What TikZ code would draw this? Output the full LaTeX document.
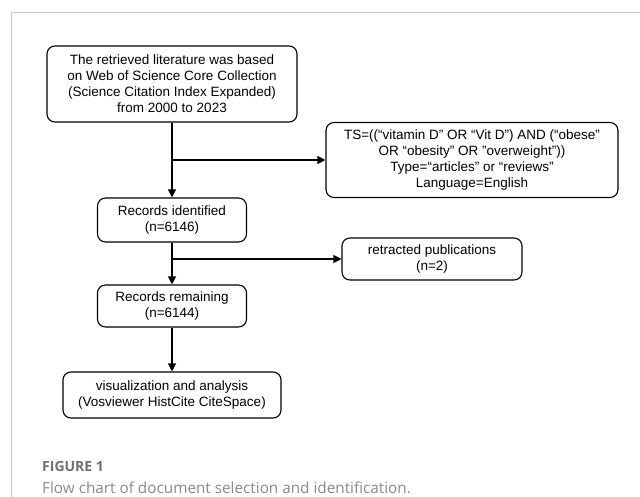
\documentclass[tikz,border=0pt]{standalone}
\usepackage{fontspec}
\setmainfont{Liberation Sans}
\newfontfamily\capfont{Open Sans}
\usetikzlibrary{arrows.meta}
\definecolor{framegray}{HTML}{C8C8C8}
\definecolor{capgray}{HTML}{8A8A8A}
\definecolor{figgray}{HTML}{707070}
\begin{document}
\begin{tikzpicture}[x=1pt,y=-1pt,
  flowbox/.style={draw=black, line width=1.1pt, rounded corners=8pt, align=center,
    inner sep=0pt, font=\fontsize{13.5}{16}\selectfont},
  arr/.style={line width=1.1pt, -{Triangle[length=8pt,width=8pt]}},
  plain/.style={line width=1.1pt}]
\useasboundingbox (0,0) rectangle (640,497);
\fill[white] (0,0) rectangle (640,497);
\draw[framegray, line width=0.8pt] (11,497) -- (11,12) -- (640,12);

\node[flowbox, minimum width=250pt, minimum height=76pt] (box1) at (172,84)
  {The retrieved literature was based\\on Web of Science Core Collection\\(Science Citation Index Expanded)\\from 2000 to 2023};
\node[flowbox, minimum width=292pt, minimum height=75pt] (ts) at (472,160)
  {TS=((“vitamin D” OR “Vit D”) AND (“obese”\\OR “obesity” OR "overweight"))\\Type=“articles” or “reviews”\\Language=English};
\node[flowbox, minimum width=149pt, minimum height=44pt] (rid) at (172,220)
  {Records identified\\(n=6146)};
\node[flowbox, minimum width=180pt, minimum height=42pt] (ret) at (432,259)
  {retracted publications\\(n=2)};
\node[flowbox, minimum width=149pt, minimum height=42pt] (rrem) at (172,306)
  {Records remaining\\(n=6144)};
\node[flowbox, minimum width=218pt, minimum height=46pt] (vis) at (172,395)
  {visualization and analysis\\(Vosviewer HistCite CiteSpace)};

\coordinate (b1) at (box1.south |- ts.west);
\coordinate (b2) at (rid.south |- ret.west);
\draw[arr] (box1.south) -- (rid.north);
\draw[arr] (b1) -- (ts.west);
\draw[arr] (rid.south) -- (rrem.north);
\draw[arr] (b2) -- (ret.west);
\draw[arr] (rrem.south) -- (vis.north);

\node[anchor=west, inner sep=0pt, text=figgray, font=\capfont\bfseries\fontsize{14}{16}\selectfont] (fig) at (42,466) {FIGURE 1};
\node[anchor=west, inner sep=0pt, text=capgray, font=\capfont\fontsize{15.3}{18}\selectfont] (cap) at (42,488) {Flow chart of document selection and identification.};
\end{tikzpicture}
\end{document}
